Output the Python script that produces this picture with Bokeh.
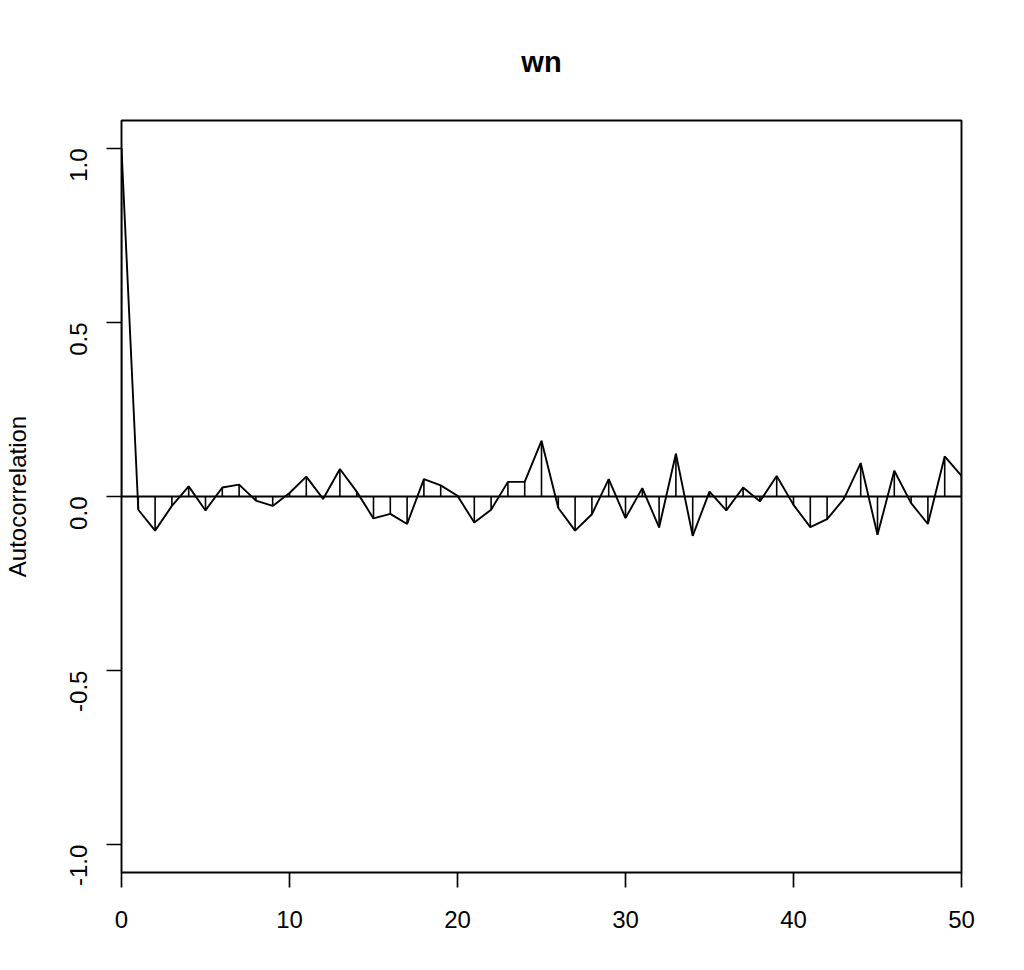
from bokeh.plotting import figure
from bokeh.models import Range1d, FixedTicker, Span
from bokeh.embed import file_html
from bokeh.resources import INLINE

# ---- data ----
lags = list(range(0, 51))
acf = [1.000, -0.038, -0.098, -0.027, 0.029, -0.040, 0.026, 0.034, -0.012, -0.027,
       0.010, 0.057, -0.007, 0.079, 0.014, -0.063, -0.050, -0.079, 0.050, 0.032,
       0.002, -0.075, -0.038, 0.042, 0.042, 0.160, -0.033, -0.098, -0.051, 0.050,
       -0.062, 0.024, -0.089, 0.123, -0.113, 0.014, -0.040, 0.026, -0.014, 0.059,
       -0.024, -0.088, -0.065, -0.007, 0.096, -0.110, 0.074, -0.019, -0.079, 0.115,
       0.059]
x_ticks = [0, 10, 20, 30, 40, 50]
y_ticks = [-1.0, -0.5, 0.0, 0.5, 1.0]
y_tick_labels = ["-1.0", "-0.5", "0.0", "0.5", "1.0"]
title_text = "wn"
y_label = "Autocorrelation"

FONT = "Liberation Sans"

p = figure(frame_width=840, frame_height=752,
           x_range=Range1d(0, 50), y_range=Range1d(-1.08, 1.08),
           output_backend="svg", toolbar_location=None,
           min_border_left=121, min_border_top=120,
           min_border_right=55, min_border_bottom=90,
           background_fill_color="white", border_fill_color="white")

p.title.text = title_text
p.title.align = "center"
p.title.text_font = FONT
p.title.text_font_size = "29px"
p.title.text_font_style = "bold"
p.title.text_color = "black"
p.title.standoff = 85

p.grid.visible = False
p.outline_line_color = "black"
p.outline_line_width = 1.9

for ax in (p.xaxis[0], p.yaxis[0]):
    ax.axis_line_color = None
    ax.major_tick_line_color = "black"
    ax.major_tick_line_width = 1.7
    ax.major_tick_out = 15
    ax.major_tick_in = 0
    ax.minor_tick_line_color = None
    ax.major_label_text_font = FONT
    ax.major_label_text_font_size = "24px"
    ax.major_label_text_color = "black"

p.xaxis.ticker = FixedTicker(ticks=x_ticks)
p.xaxis.major_label_standoff = 23

p.yaxis.ticker = FixedTicker(ticks=y_ticks)
p.yaxis.major_label_overrides = {t: l for t, l in zip(y_ticks, y_tick_labels)}
p.yaxis.major_label_orientation = 1.5707963
p.yaxis.major_label_standoff = 28
p.yaxis.axis_label = y_label
p.yaxis.axis_label_text_font = FONT
p.yaxis.axis_label_text_font_size = "24px"
p.yaxis.axis_label_text_font_style = "normal"
p.yaxis.axis_label_text_color = "black"
p.yaxis.axis_label_standoff = 28

p.add_layout(Span(location=0, dimension="width", line_color="black", line_width=1.8))
p.segment(x0=lags, y0=[0] * len(lags), x1=lags, y1=acf, line_color="black", line_width=1.6)
p.line(lags, acf, line_color="black", line_width=1.9)

open("out.html", "w").write(file_html(p, INLINE))
